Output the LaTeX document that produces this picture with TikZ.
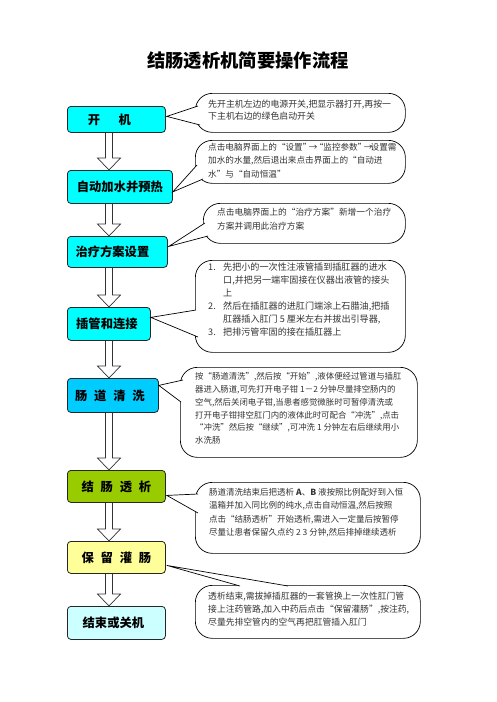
\documentclass[tikz,border=0pt]{standalone}
\usepackage{fontspec}
\setmainfont{Noto Sans CJK SC}
\usetikzlibrary{calc}
\definecolor{cyanbox}{RGB}{0,255,255}
\definecolor{bluebox}{RGB}{0,204,255}
\definecolor{greenbox}{RGB}{153,204,0}
\definecolor{yellowbox}{RGB}{255,255,153}
\definecolor{paleblue}{RGB}{204,255,255}
\newcommand\hollowarr[2]{%
  \filldraw[harrow] let \p1=($(#1.south west)+(42,0)$), \p2=($(#2.north west)+(42,0)$) in
    (\x1-3.5pt,\y1) -- (\x1-3.5pt,\y2+12pt) -- (\x1-11.5pt,\y2+12pt) -- (\x1,\y2)
    -- (\x1+11.5pt,\y2+12pt) -- (\x1+3.5pt,\y2+12pt) -- (\x1+3.5pt,\y1);}
\newcommand\pointer[3]{%
  \fill[white] #1 -- #2 -- #3 -- cycle;
  \draw[ptr] #1 -- #2 -- #3;}
\begin{document}
\begin{tikzpicture}[x=1pt,y=-1pt,
  box/.style={draw=black!85, line width=0.8pt, rounded corners=3.5pt, anchor=north west,
    inner sep=0pt, font=\fontsize{12.3}{14}\selectfont\bfseries},
  call/.style={draw=black, line width=0.7pt, fill=white, rounded corners=17pt,
    anchor=north west, inner sep=0pt},
  ctext/.style={anchor=north west, inner sep=0pt, align=left, text=black!80,
    font=\fontsize{8.7}{13}\selectfont},
  harrow/.style={draw=black!80, fill=white, line width=0.7pt, line join=miter},
  ptr/.style={draw=black, line width=0.7pt}]
\fill[white] (0,0) rectangle (496,702);
\useasboundingbox (0,0) rectangle (496,702);

\node[font=\fontsize{18.3}{20}\selectfont\bfseries] (title) at (248,61) {结肠透析机简要操作流程};

% invisible placeholders for the arrows (drawn first)
\node[box, minimum width=98pt, minimum height=26pt, draw=none] (b1) at (67,106) {};
\node[box, minimum width=105pt, minimum height=33pt, draw=none] (b2) at (67,170) {};
\node[box, minimum width=100pt, minimum height=31pt, draw=none] (b3) at (67,236) {};
\node[box, minimum width=83pt, minimum height=33pt, draw=none] (b4) at (67,307) {};
\node[box, minimum width=91pt, minimum height=34pt, draw=none] (b5) at (67,378) {};
\node[box, minimum width=98pt, minimum height=32pt, draw=none] (b6) at (67,470) {};
\node[box, minimum width=98pt, minimum height=32pt, draw=none] (b7) at (67,541) {};
\node[box, minimum width=98pt, minimum height=33pt, draw=none] (b8) at (67,606) {};
\hollowarr{b1}{b2}
\hollowarr{b2}{b3}
\hollowarr{b3}{b4}
\hollowarr{b4}{b5}
\hollowarr{b5}{b6}
\hollowarr{b6}{b7}
\hollowarr{b7}{b8}

% boxes
\node[box, fill=cyanbox, minimum width=98pt, minimum height=26pt] (B1) at (67,106) {开\hspace{1.5em}机\hspace*{14pt}};
\node[box, fill=cyanbox, minimum width=105pt, minimum height=33pt] (B2) at (67,170) {自动加水并预热};
\node[box, fill=cyanbox, minimum width=100pt, minimum height=31pt] (B3) at (67,236) {治疗方案设置\hspace*{10pt}};
\node[box, fill=cyanbox, minimum width=83pt, minimum height=33pt] (B4) at (67,307) {插管和连接\hspace*{4pt}};
\node[box, fill=bluebox, minimum width=91pt, minimum height=34pt] (B5) at (67,378) {肠\hspace{0.55em}道\hspace{0.55em}清\hspace{0.55em}洗\hspace*{6pt}};
\node[box, fill=greenbox, minimum width=98pt, minimum height=32pt] (B6) at (67,470) {结\hspace{0.55em}肠\hspace{0.55em}透\hspace{0.55em}析};
\node[box, fill=yellowbox, minimum width=98pt, minimum height=32pt] (B7) at (67,541) {保\hspace{0.55em}留\hspace{0.55em}灌\hspace{0.55em}肠};
\node[box, fill=paleblue, minimum width=98pt, minimum height=33pt] (B8) at (67,606) {结束或关机\hspace*{6pt}};

% callouts
\node[call, minimum width=210pt, minimum height=39pt] (c1) at (195,93) {};
\node[call, minimum width=210pt, minimum height=43pt] (c2) at (195,140) {};
\node[call, minimum width=202pt, minimum height=40pt] (c3) at (203,203) {};
\node[call, minimum width=210pt, minimum height=92pt] (c4) at (195,260) {};
\node[call, minimum width=237pt, minimum height=90pt] (c5) at (180,367) {};
\node[call, minimum width=225pt, minimum height=71pt] (c6) at (195,482) {};
\node[call, minimum width=225pt, minimum height=53pt] (c7) at (195,585) {};

\pointer{([shift={(3,13)}]c1.north west)}{([shift={(1,-3)}]B1.east)}{([shift={(5,32)}]c1.north west)}
\pointer{([shift={(2,25)}]c2.north west)}{([shift={(0,5)}]B2.east)}{([shift={(8,39)}]c2.north west)}
\pointer{([shift={(2,20)}]c3.north west)}{([shift={(1,-5.5)}]B3.east)}{([shift={(5,33)}]c3.north west)}
\pointer{([shift={(1,50)}]c4.north west)}{([shift={(0,-6.5)}]B4.east)}{([shift={(3,77)}]c4.north west)}
\pointer{([shift={(3,13)}]c5.north west)}{([shift={(0,-10)}]B5.east)}{([shift={(1,35)}]c5.north west)}
\pointer{([shift={(3,12)}]c6.north west)}{([shift={(1,9)}]B6.east)}{([shift={(3,31)}]c6.north west)}
\pointer{([shift={(45,1)}]c7.north west)}{([shift={(1,8)}]B7.east)}{([shift={(93,1)}]c7.north west)}

% callout texts
\node[ctext, font=\fontsize{8.9}{12}\selectfont] (t1) at (208,100) {先开主机左边的电源开关,把显示器打开,再按一\\下主机右边的绿色启动开关};
\node[ctext, font=\fontsize{8.6}{13.5}\selectfont] (t2) at (208,143) {点击电脑界面上的“设置”\hspace{-0.3em}→\hspace{-0.3em}“监控参数”\hspace{-0.3em}→\hspace{-0.2em}设置需\\加水的水量,然后退出来点击界面上的“自动进\\水”与“自动恒温”};
\node[ctext, font=\fontsize{8.7}{14}\selectfont] (t3) at (217,208) {点击电脑界面上的“治疗方案”新增一个治疗\\方案并调用此治疗方案};
\node[ctext, font=\fontsize{9.1}{13}\selectfont] (t4) at (208,263) {\makebox[15pt][l]{1.}先把小的一次性注液管插到插肛器的进水\\
\hspace*{15pt}口,并把另一端牢固接在仪器出液管的接头\\
\hspace*{15pt}上\\
\makebox[15pt][l]{2.}然后在插肛器的进肛门端涂上石腊油,把插\\
\hspace*{15pt}肛器插入肛门 5 厘米左右并拔出引导器,\\
\makebox[15pt][l]{3.}把排污管牢固的接在插肛器上};
\node[ctext, font=\fontsize{8.4}{12.9}\selectfont] (t5) at (195,372) {按“肠道清洗”,然后按“开始”,液体便经过管道与插肛\\器进入肠道,可先打开电子钳 1－2 分钟尽量排空肠内的\\空气,然后关闭电子钳,当患者感觉微胀时可暂停清洗或\\打开电子钳排空肛门内的液体此时可配合“冲洗”,点击\\“冲洗”然后按“继续”,可冲洗 1 分钟左右后继续用小\\水洗肠};
\node[ctext, font=\fontsize{8.5}{13.5}\selectfont] (t6) at (209,488) {肠道清洗结束后把透析 \textbf{A}、\textbf{B} 液按照比例配好到入恒\\温箱并加入同比例的纯水,点击自动恒温,然后按照\\点击“结肠透析”开始透析,需进入一定量后按暂停\\尽量让患者保留久点约 2 3 分钟,然后排掉继续透析};
\node[ctext, font=\fontsize{8.8}{12.7}\selectfont] (t7) at (208,592) {透析结束,需拔掉插肛器的一套管换上一次性肛门管\\接上注药管路,加入中药后点击“保留灌肠”,按注药,\\尽量先排空管内的空气再把肛管插入肛门};
\end{tikzpicture}
\end{document}
